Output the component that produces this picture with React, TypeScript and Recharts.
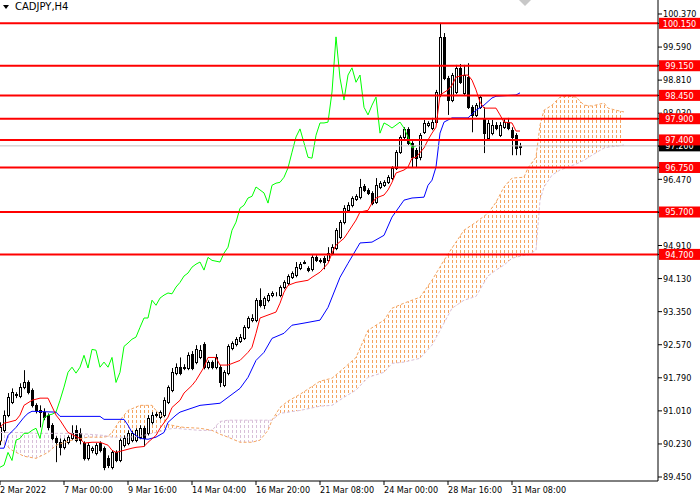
import React from "react";
import {
  ComposedChart,
  Bar,
  Line,
  Area,
  XAxis,
  YAxis,
  ReferenceLine,
} from "recharts";

// CADJPY H4 candles, index 0 = left edge of the chart
const opens = [
  90.32, 90.55, 90.91, 91.21, 91.38, 91.35, 91.57, 91.68, 91.5, 91.14,
  91.02, 90.98, 90.91, 90.67, 90.36, 90.27, 90.15, 90.27, 90.36, 90.55,
  90.48, 90.25, 89.89, 90.08, 90.01, 90.25, 90.13, 89.89, 89.68, 90.03,
  89.84, 90.2, 90.25, 90.32, 90.32, 90.39, 90.6, 90.48, 90.74, 90.91,
  90.86, 90.91, 91.21, 91.5, 91.9, 92.04, 92.02, 92.02, 92.35, 92.16,
  92.27, 92.58, 92.04, 92.16, 92.04, 92.04, 91.61, 91.9, 92.49, 92.58,
  92.65, 92.72, 92.98, 93.15, 93.15, 93.62, 93.5, 93.62, 93.74, 93.76,
  93.74, 93.93, 94.02, 94.16, 94.21, 94.38, 94.49, 94.38, 94.35, 94.63,
  94.56, 94.61, 94.56, 94.73, 94.85, 95.11, 95.46, 95.74, 95.86, 96.0,
  96.05, 96.31, 96.22, 96.15, 95.93, 96.29, 96.33, 96.4, 96.5, 96.74,
  97.11, 97.47, 97.66, 97.33, 97.16, 96.99, 97.58, 97.75, 97.68, 97.82,
  98.46, 99.83, 98.86, 98.34, 98.53, 99.1, 98.51, 98.88, 98.17, 97.99,
  98.17, 97.92, 97.44, 97.56, 97.75, 97.51, 97.7, 97.82, 97.63, 97.51,
  97.23,
];
const highs = [
  90.74, 91.02, 91.43, 91.54, 91.45, 91.66, 91.97, 91.73, 91.54, 91.19,
  91.14, 91.07, 90.95, 90.72, 90.41, 90.36, 90.36, 90.43, 90.67, 90.67,
  90.6, 90.29, 90.25, 90.17, 90.25, 90.29, 90.17, 89.96, 90.08, 90.08,
  90.36, 90.43, 90.55, 90.53, 90.6, 90.67, 90.65, 90.91, 90.98, 90.98,
  91.02, 91.33, 91.61, 92.02, 92.13, 92.27, 92.11, 92.39, 92.42, 92.56,
  92.56, 92.63, 92.2, 92.2, 92.35, 92.09, 91.97, 92.58, 92.65, 92.75,
  92.82, 93.03, 93.24, 93.29, 93.67, 93.9, 93.71, 93.79, 93.83, 93.81,
  93.97, 94.09, 94.23, 94.3, 94.52, 94.52, 94.56, 94.42, 94.68, 94.68,
  94.61, 94.66, 94.87, 94.94, 95.32, 95.51, 95.86, 95.93, 96.07, 96.12,
  96.48, 96.36, 96.26, 96.19, 96.5, 96.43, 96.45, 96.57, 96.78, 97.16,
  97.51, 97.7, 97.7, 97.37, 97.21, 97.56, 97.87, 97.84, 97.92, 98.58,
  100.16, 99.92, 98.91, 98.98, 99.17, 99.19, 99.17, 99.21, 98.22, 98.27,
  98.46, 98.17, 97.87, 97.87, 97.82, 97.82, 97.89, 97.92, 97.7, 97.56,
  97.33,
];
const lows = [
  90.2, 90.5, 90.86, 91.17, 91.31, 91.31, 91.52, 91.4, 91.09, 90.95,
  90.62, 90.79, 90.55, 90.32, 89.8, 89.96, 90.1, 90.22, 90.32, 90.27,
  90.22, 89.84, 89.84, 90.01, 89.96, 90.03, 89.61, 89.66, 89.63, 89.8,
  89.8, 90.15, 90.2, 90.27, 90.27, 90.34, 90.17, 90.43, 90.69, 90.86,
  90.81, 90.86, 91.17, 91.45, 91.85, 91.85, 91.97, 91.97, 91.97, 92.11,
  92.23, 91.99, 91.99, 91.99, 91.99, 91.57, 91.57, 91.85, 92.44, 92.53,
  92.61, 92.68, 92.94, 93.1, 93.1, 93.45, 93.41, 93.57, 93.69, 93.71,
  93.69, 93.88, 93.97, 94.12, 94.16, 94.33, 94.47, 94.28, 94.3, 94.52,
  94.49, 94.35, 94.52, 94.68, 94.8, 95.06, 95.41, 95.7, 95.81, 95.96,
  96.0, 96.17, 96.1, 95.86, 95.89, 96.24, 96.29, 96.36, 96.45, 96.69,
  97.07, 97.42, 97.28, 96.74, 96.76, 96.92, 97.54, 97.7, 97.63, 97.77,
  98.41, 98.81, 97.99, 98.29, 98.48, 98.72, 98.46, 98.13, 97.58, 97.94,
  98.13, 97.09, 97.4, 97.51, 97.63, 97.47, 97.66, 97.63, 97.04, 97.04,
  97.04,
];
const closes = [
  90.62, 90.91, 91.33, 91.45, 91.4, 91.57, 91.68, 91.45, 91.14, 91.02,
  90.98, 90.86, 90.62, 90.36, 90.27, 90.15, 90.32, 90.39, 90.48, 90.32,
  90.32, 89.89, 90.2, 90.13, 90.2, 90.08, 89.68, 89.73, 90.03, 89.84,
  90.32, 90.36, 90.48, 90.48, 90.55, 90.6, 90.36, 90.84, 90.91, 90.93,
  90.98, 91.26, 91.57, 91.92, 92.04, 91.9, 92.04, 92.32, 92.02, 92.46,
  92.44, 92.04, 92.16, 92.04, 92.27, 91.68, 91.92, 92.53, 92.61, 92.7,
  92.75, 92.98, 93.2, 93.2, 93.62, 93.5, 93.67, 93.74, 93.79, 93.77,
  93.93, 94.04, 94.19, 94.26, 94.4, 94.47, 94.52, 94.33, 94.63, 94.56,
  94.54, 94.52, 94.73, 94.87, 95.27, 95.46, 95.79, 95.86, 96.03, 96.07,
  96.29, 96.22, 96.15, 95.91, 96.33, 96.38, 96.4, 96.52, 96.74, 97.11,
  97.47, 97.66, 97.33, 96.99, 96.97, 97.51, 97.8, 97.8, 97.82, 98.53,
  99.83, 98.86, 98.34, 98.93, 99.1, 98.76, 98.93, 98.17, 97.99, 98.22,
  98.41, 97.56, 97.8, 97.75, 97.68, 97.75, 97.82, 97.68, 97.47, 97.21,
  97.26,
];

// Ichimoku lines: [bar index, price]
const tenkanPts: [number, number][] = [
  [0, 90.62], [1, 90.72], [2, 90.74], [4, 90.79], [5, 90.91], [6, 91.14],
  [8, 91.26], [10, 91.31], [12, 91.31], [14, 90.91], [15, 90.79], [17, 90.5],
  [20, 90.36], [21, 90.25], [23, 90.27], [25, 90.27], [27, 90.2], [28, 90.08],
  [29, 90.03], [31, 90.08], [33, 90.13], [34, 90.15], [36, 90.17], [37, 90.27],
  [39, 90.43], [40, 90.6], [42, 90.86], [43, 91.09], [45, 91.26], [46, 91.43],
  [48, 91.61], [49, 91.73], [51, 92.04], [52, 92.27], [54, 92.27], [55, 92.09],
  [57, 92.09], [60, 92.2], [62, 92.39], [63, 92.51], [64, 92.84], [65, 93.2],
  [67, 93.27], [69, 93.34], [70, 93.55], [71, 93.81], [72, 93.97], [74, 94.04],
  [77, 94.09], [78, 94.16], [80, 94.28], [82, 94.49], [83, 94.73], [84, 94.92],
  [86, 95.08], [87, 95.22], [89, 95.51], [90, 95.7], [92, 95.74], [93, 95.91],
  [94, 96.03], [96, 96.1], [97, 96.22], [98, 96.4], [99, 96.62], [101, 96.69],
  [102, 96.76], [103, 96.97], [104, 96.99], [106, 97.21], [107, 97.4],
  [108, 97.56], [109, 97.7], [110, 98.46], [112, 98.58], [113, 98.69],
  [114, 98.88], [116, 98.93], [117, 98.93], [118, 98.81], [119, 98.58],
  [120, 98.29], [121, 98.15], [124, 98.15], [125, 97.99], [126, 97.82],
  [128, 97.8], [129, 97.61], [130, 97.61],
];
const kijunPts: [number, number][] = [
  [0, 90.13], [1, 90.13], [2, 90.43], [4, 90.62], [6, 90.86], [7, 90.95],
  [8, 91.0], [14, 90.98], [15, 90.88], [25, 90.88], [26, 90.81], [31, 90.81],
  [32, 90.67], [33, 90.5], [35, 90.36], [37, 90.34], [39, 90.39], [41, 90.5],
  [42, 90.74], [44, 90.91], [45, 90.98], [50, 91.14], [55, 91.19], [57, 91.33],
  [60, 91.54], [62, 91.8], [64, 92.2], [66, 92.39], [68, 92.72], [71, 92.84],
  [73, 93.03], [76, 93.08], [80, 93.15], [82, 93.45], [85, 94.16], [87, 94.49],
  [90, 94.97], [93, 94.99], [96, 95.15], [98, 95.58], [101, 95.98], [103, 96.03],
  [106, 96.05], [107, 96.33], [108, 96.45], [109, 96.76], [110, 97.56],
  [111, 97.82], [113, 97.92], [117, 97.92], [119, 98.1], [121, 98.22],
  [123, 98.39], [124, 98.43], [129, 98.46], [130, 98.51],
];

// Kumo (Senkou Span A / B), shifted 26 bars ahead
const cloudIdx = [
  0, 3, 6, 9, 12, 14, 18, 22, 26, 27, 28, 30, 32, 35, 38, 39, 41, 42, 44, 46,
  50, 53, 55, 57, 60, 63, 65, 67, 68, 70, 72, 75, 80, 83, 86, 89, 92, 96, 98,
  101, 105, 108, 111, 113, 116, 119, 122, 124, 126, 128, 131, 132, 134, 135,
  136, 138, 140, 142, 144, 146, 148, 151, 152, 154, 156,
];
const spanA = [
  90.32, 90.08, 89.94, 89.89, 90.03, 90.2, 90.32, 90.39, 90.39, 90.41,
  90.5, 90.79, 91.02, 91.14, 91.14, 91.02, 90.84, 90.69, 90.65, 90.62,
  90.6, 90.55, 90.46, 90.39, 90.27, 90.27, 90.32, 90.55, 90.79, 91.09,
  91.24, 91.4, 91.71, 91.78, 92.02, 92.27, 92.91, 93.15, 93.43, 93.55,
  93.69, 94.09, 94.56, 94.85, 95.27, 95.46, 95.67, 95.93, 96.29, 96.5,
  96.52, 96.74, 96.99, 97.75, 98.1, 98.22, 98.41, 98.43, 98.41, 98.22,
  98.2, 98.27, 98.15, 98.1, 98.06,
];
const spanB = [
  90.5, 90.5, 90.5, 90.48, 90.48, 90.48, 90.48, 90.46, 90.43, 90.41,
  90.39, 90.39, 90.39, 90.41, 90.48, 90.5, 90.55, 90.58, 90.6, 90.58,
  90.55, 90.55, 90.76, 90.79, 90.79, 90.79, 90.79, 90.79, 90.79, 90.95,
  90.98, 91.02, 91.12, 91.14, 91.33, 91.5, 91.8, 91.92, 92.13, 92.16,
  92.25, 92.56, 93.08, 93.43, 93.62, 93.71, 94.19, 94.33, 94.45, 94.61,
  94.68, 94.68, 94.8, 95.98, 96.29, 96.57, 96.69, 96.76, 96.83, 96.92,
  97.04, 97.21, 97.23, 97.25, 97.28,
];

const levels = [100.15, 99.15, 98.45, 97.9, 97.4, 96.75, 95.7, 94.7];
const bid = 97.26;

const priceTicks = [
  100.37, 99.59, 98.81, 98.03, 97.25, 96.47, 95.69, 94.91, 94.13, 93.35,
  92.57, 91.79, 91.01, 90.23, 89.45,
];
const timeTicks = [0, 16, 32, 48, 64, 80, 96, 112, 128];
const timeLabels = [
  "2 Mar 2022",
  "7 Mar 00:00",
  "9 Mar 16:00",
  "14 Mar 04:00",
  "16 Mar 20:00",
  "21 Mar 08:00",
  "24 Mar 00:00",
  "28 Mar 16:00",
  "31 Mar 08:00",
];

const FONT = '"DejaVu Sans Condensed", "DejaVu Sans", sans-serif';
const SHIFT = 26;
const SLOTS = 165;

const tenkanMap = new Map(tenkanPts);
const kijunMap = new Map(kijunPts);

const rows = Array.from({ length: SLOTS }, (_, i) => {
  const row: any = { i };
  if (i < closes.length) {
    row.o = opens[i];
    row.h = highs[i];
    row.l = lows[i];
    row.c = closes[i];
    row.range = [lows[i], highs[i]];
  }
  if (i + SHIFT < closes.length) row.chikou = closes[i + SHIFT];
  if (tenkanMap.has(i)) row.tenkan = tenkanMap.get(i);
  if (kijunMap.has(i)) row.kijun = kijunMap.get(i);
  const k = cloudIdx.indexOf(i);
  if (k >= 0) {
    const a = spanA[k];
    const b = spanB[k];
    row.spanA = a;
    row.spanB = b;
    row.bull = [b, Math.max(a, b)];
    row.bear = [a, Math.max(a, b)];
  }
  return row;
});

// axis ticks: plain price ticks first, then the bid tag, then level tags on top
const axisTicks = [...priceTicks, bid, ...levels];

const Candle = (props: any) => {
  const { x, y, width, height, payload } = props;
  if (!payload || payload.o == null) return null;
  const { o, h, l, c } = payload;
  const top = Math.min(y, y + height);
  const hgt = Math.abs(height);
  const span = h - l;
  const py = (v: number) => (span > 0 ? top + ((h - v) / span) * hgt : top);
  const cx = Math.round(x + width / 2) + 0.5;
  const bTop = Math.round(py(Math.max(o, c)));
  const bBot = Math.round(py(Math.min(o, c)));
  const bull = c >= o;
  return (
    <g>
      <line x1={cx} x2={cx} y1={top} y2={top + hgt} stroke="#000" strokeWidth={1} />
      <rect
        x={cx - 1}
        y={bTop + 0.5}
        width={2}
        height={Math.max(bBot - bTop, 0)}
        fill={bull ? "#fff" : "#000"}
        stroke="#000"
        strokeWidth={1}
      />
    </g>
  );
};

const PriceTick = (props: any) => {
  const { x, y, payload } = props;
  const v = payload.value;
  const isLevel = levels.includes(v);
  if (isLevel || v === bid) {
    const left = x - 4;
    return (
      <g>
        <rect x={left} y={y - 5.5} width={41} height={11} fill={isLevel ? "#FF0000" : "#000"} />
        <text
          x={left + 20.5}
          y={y}
          dy="0.36em"
          textAnchor="middle"
          fill="#fff"
          fontSize={9}
          fontFamily={FONT}
        >
          {v.toFixed(3)}
        </text>
      </g>
    );
  }
  return (
    <text x={x} y={y} dy="0.35em" textAnchor="start" fill="#000" fontSize={9} fontFamily={FONT}>
      {v.toFixed(3)}
    </text>
  );
};

const TimeTick = (props: any) => {
  const { x, y, payload } = props;
  const k = timeTicks.indexOf(payload.value);
  return (
    <text x={x} y={y} dy="0.71em" textAnchor="start" fill="#000" fontSize={9} fontFamily={FONT}>
      {k >= 0 ? timeLabels[k] : ""}
    </text>
  );
};

export default function App() {
  return (
    <div
      style={{
        position: "absolute",
        left: 0,
        top: 0,
        width: 700,
        height: 500,
        background: "#fff",
        overflow: "hidden",
      }}
    >
      <ComposedChart
        width={700}
        height={500}
        data={rows}
        margin={{ top: 0, right: 0, left: 0, bottom: 0 }}
      >
        <defs>
          <pattern id="bullHatch" width="4" height="5" patternUnits="userSpaceOnUse">
            <rect x="0" y="0" width="1" height="3" fill="#F4A460" />
          </pattern>
          <pattern id="bearHatch" width="4" height="5" patternUnits="userSpaceOnUse">
            <rect x="0" y="0" width="1" height="3" fill="#D8BFD8" />
          </pattern>
        </defs>
        <XAxis
          dataKey="i"
          type="number"
          domain={[0, 164.5]}
          allowDataOverflow
          ticks={timeTicks}
          interval={0}
          height={19}
          tickSize={4}
          tickMargin={2}
          axisLine={{ stroke: "#000" }}
          tickLine={{ stroke: "#000" }}
          tick={<TimeTick />}
        />
        <YAxis
          orientation="right"
          type="number"
          domain={[89.356, 100.7]}
          allowDataOverflow
          ticks={axisTicks}
          interval={0}
          width={42}
          tickSize={4}
          tickMargin={1}
          axisLine={{ stroke: "#000" }}
          tickLine={{ stroke: "#000" }}
          tick={<PriceTick />}
        />
        <Area
          dataKey="bull"
          stroke="none"
          fill="url(#bullHatch)"
          fillOpacity={1}
          connectNulls
          isAnimationActive={false}
          activeDot={false}
        />
        <Area
          dataKey="bear"
          stroke="none"
          fill="url(#bearHatch)"
          fillOpacity={1}
          connectNulls
          isAnimationActive={false}
          activeDot={false}
        />
        <Line
          dataKey="spanA"
          stroke="#F4A460"
          strokeDasharray="3 2"
          strokeWidth={1}
          dot={false}
          activeDot={false}
          connectNulls
          isAnimationActive={false}
        />
        <Line
          dataKey="spanB"
          stroke="#D8BFD8"
          strokeDasharray="3 2"
          strokeWidth={1}
          dot={false}
          activeDot={false}
          connectNulls
          isAnimationActive={false}
        />
        <Bar dataKey="range" barSize={3} shape={<Candle />} isAnimationActive={false} />
        <Line
          dataKey="chikou"
          stroke="#00FF00"
          strokeWidth={1}
          dot={false}
          activeDot={false}
          connectNulls
          isAnimationActive={false}
        />
        <Line
          dataKey="kijun"
          stroke="#0000FF"
          strokeWidth={1}
          dot={false}
          activeDot={false}
          connectNulls
          isAnimationActive={false}
        />
        <Line
          dataKey="tenkan"
          stroke="#FF0000"
          strokeWidth={1}
          dot={false}
          activeDot={false}
          connectNulls
          isAnimationActive={false}
        />
        <ReferenceLine y={bid} stroke="#C0C0C0" strokeWidth={1} />
        {levels.map((lv) => (
          <ReferenceLine key={lv} y={lv} stroke="#FF0000" strokeWidth={2} />
        ))}
      </ComposedChart>
      <div
        style={{
          position: "absolute",
          left: 2,
          top: 1,
          display: "flex",
          alignItems: "center",
          fontFamily: '"DejaVu Sans", sans-serif',
          fontSize: 10,
          color: "#000",
          lineHeight: "12px",
        }}
      >
        <svg width={11} height={12}>
          <polygon points="1,4 7,4 4,8" fill="#000" />
        </svg>
        <span style={{ marginLeft: 2 }}>CADJPY,H4</span>
      </div>
      <div
        style={{
          position: "absolute",
          left: 519,
          top: 0,
          width: 0,
          height: 0,
          borderLeft: "6px solid transparent",
          borderRight: "6px solid transparent",
          borderTop: "6px solid #C8C8C8",
        }}
      />
    </div>
  );
}
